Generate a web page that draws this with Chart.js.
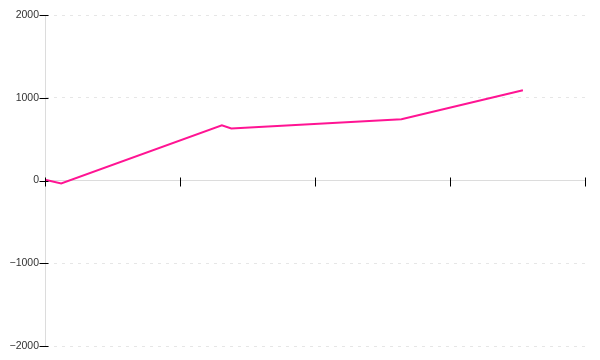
<!DOCTYPE html>
<html>
<head>
<meta charset="utf-8">
<script src="https://cdn.jsdelivr.net/npm/chart.js@4/dist/chart.umd.min.js"></script>
<style>
  html, body { margin: 0; padding: 0; background: #fff; }
  #wrap { width: 600px; height: 360px; }
</style>
</head>
<body>
<div id="wrap"><canvas id="chart"></canvas></div>
<script>
//values
const xValues = [0, 0.12, 1.31, 1.38, 2.64, 3.54];
const yValues = [10, -35, 668, 628, 741, 1091];
const yTicks = [-2000, -1000, 0, 1000, 2000];
const xTicks = [0, 1, 2, 3, 4];

const points = xValues.map((x, i) => ({ x: x, y: yValues[i] }));

//draws small black tick marks that cross each axis line
const crossTicks = {
  id: "crossTicks",
  afterDraw(chart) {
    const ctx = chart.ctx;
    const xs = chart.scales.x;
    const ys = chart.scales.y;
    const y0 = Math.round(ys.getPixelForValue(0)) + 0.5;
    const x0 = Math.round(xs.getPixelForValue(0)) + 0.5;
    ctx.save();
    ctx.strokeStyle = "#000";
    ctx.lineWidth = 1;
    ctx.beginPath();
    xTicks.forEach((t) => {
      const px = Math.round(xs.getPixelForValue(t)) + 0.5;
      ctx.moveTo(px, y0 - 4);
      ctx.lineTo(px, y0 + 5);
    });
    yTicks.forEach((t) => {
      const py = Math.round(ys.getPixelForValue(t)) + 0.5;
      ctx.moveTo(x0 - 6, py);
      ctx.lineTo(x0 + 3, py);
    });
    ctx.stroke();
    ctx.restore();
  },
};

const ctx = document.getElementById("chart").getContext("2d");
const myChart = new Chart(ctx, {
  type: "line",
  data: {
    datasets: [
      {
        data: points,
        borderColor: "#ff1493",
        backgroundColor: "#ff1493",
        borderWidth: 2,
        pointRadius: 0,
        tension: 0,
        fill: false,
      },
    ],
  },
  options: {
    responsive: true,
    maintainAspectRatio: false,
    animation: false,
    layout: { padding: { top: 15, bottom: 14, left: 0, right: 15 } },
    plugins: {
      legend: { display: false },
      tooltip: { enabled: false },
    },
    scales: {
      x: {
        type: "linear",
        position: { y: 0 },
        min: 0,
        max: 4,
        ticks: { display: false, stepSize: 1 },
        grid: { drawOnChartArea: false, drawTicks: false },
        border: { color: "#dcdcdc", width: 1 },
      },
      y: {
        type: "linear",
        position: "left",
        min: -2000,
        max: 2000,
        afterFit: (scale) => {
          scale.width = 45;
        },
        afterBuildTicks: (scale) => {
          scale.ticks = yTicks.map((v) => ({ value: v }));
        },
        ticks: {
          padding: 6,
          color: "#333",
          font: { family: "Liberation Sans", size: 10.5 },
          callback: (v) => (v < 0 ? "\u2212" + Math.abs(v) : String(v)),
        },
        grid: { color: "#e6e6e6", drawTicks: false },
        border: { color: "#dcdcdc", width: 1, dash: [3, 5] },
      },
    },
  },
  plugins: [crossTicks],
});
</script>
</body>
</html>
